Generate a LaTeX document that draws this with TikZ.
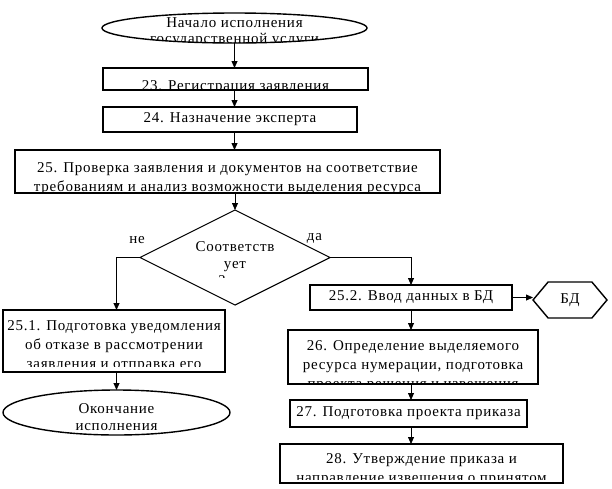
\documentclass[tikz,border=0pt]{standalone}
\usepackage{fontspec}
\setmainfont{Liberation Serif}[LetterSpace=5]
\usetikzlibrary{positioning, arrows.meta, shapes.geometric, shapes.symbols}

\begin{document}
\begin{tikzpicture}[
    x=1pt, y=1pt,
    every node/.style={font=\fontsize{15}{19}\selectfont, outer sep=0pt},
    txt/.style={shape=rectangle, draw=none, fill=none, minimum width=0pt, minimum height=0pt,
        align=center, inner sep=0pt, anchor=north, path picture={}},
    blok/.style={
        rectangle,
        draw,
        line width=1.6pt,
        align=center,
        inner sep=0pt,
    },
    term/.style={ellipse, draw, line width=1.4pt, inner sep=0pt}, % начало и конец
    % обрезанный текст: отступ сверху, поле снизу, текст
    cut/.style n args={3}{path picture={
        \clip (path picture bounding box.north west) rectangle ([yshift=#2]path picture bounding box.south east);
        \node[txt] at ([yshift=-#1]path picture bounding box.north) {\vphantom{\strut}#3};}},
    lbl/.style={inner sep=0pt},
    arr/.style={-{Triangle[width=6pt,length=7pt]}, line width=0.8pt}
]
\useasboundingbox (0,0) rectangle (612,-488);

% Узлы
\node[term, minimum width=265pt, minimum height=30pt, cut={0.7pt}{0pt}{Начало исполнения\\[-3pt]государственной услуги}] (start) at (234.5,-28) {};
\node[blok, below=25pt of start, xshift=1pt, minimum width=265pt, minimum height=22pt, cut={9.3pt}{1pt}{23. Регистрация заявления}] (reg) {};
\node[blok, below=17pt of reg, xshift=-5.5pt, minimum width=254pt, minimum height=25pt] (expert) {24. Назначение эксперта};
\node[blok, below=18pt of expert, xshift=-2.5pt, minimum width=425pt, minimum height=43pt, cut={8.7pt}{0pt}{25. Проверка заявления и документов на соответствие\\требованиям и анализ возможности выделения ресурса}] (check) {};
\node[diamond, draw, line width=1.1pt, inner sep=0pt, below=17pt of check, xshift=7.5pt, minimum width=190pt, minimum height=95pt,
    cut={27.7pt}{27.5pt}{Соответств\\[-2pt]ует\\[-2pt]\hspace*{-26pt}?}] (cond) {};
\node[lbl, above=14pt of cond.west, xshift=-3pt] (ne) {не};
\node[lbl, above=14.5pt of cond.east, xshift=-15.5pt] (da) {да};

\node[blok, below=52.5pt of cond.west, xshift=-26pt, minimum width=222pt, minimum height=62pt, cut={6.7pt}{6pt}{25.1. Подготовка уведомления\\об отказе в рассмотрении\\заявления и отправка его}] (refuse) {};
\node[term, below=18pt of refuse, xshift=2.5pt, minimum width=227pt, minimum height=45pt, cut={9.7pt}{5pt}{Окончание\\[-2pt]исполнения}] (finish) {};

\node[blok, below=27.5pt of cond.east, xshift=81pt, minimum width=202pt, minimum height=25pt] (input) {25.2. Ввод данных в БД};
\node[signal, signal to=west and east, signal pointer angle=100, draw, line width=1.4pt, inner sep=0pt, right=21pt of input, yshift=-2.5pt, minimum width=74pt, minimum height=36pt] (db) {БД};
\node[blok, below=20pt of input, xshift=2pt, minimum width=250pt, minimum height=54pt, cut={6.7pt}{0pt}{26. Определение выделяемого\\ресурса нумерации, подготовка\\проекта решения и извещения}] (define) {};
\node[blok, below=16pt of define, xshift=-4.5pt, minimum width=237pt, minimum height=27pt] (order) {27. Подготовка проекта приказа};
\node[blok, below=17pt of order, xshift=13pt, minimum width=283pt, minimum height=39pt, cut={5.7pt}{4pt}{28. Утверждение приказа и\\направление извещения о принятом}] (approve) {};

% Соединения
\draw[arr] (start.south) -- (start.south |- reg.north);
\draw[arr] (reg.south -| start) -- (expert.north -| start);
\draw[arr] (expert.south -| start) -- (check.north -| start);
\draw[arr] (check.south -| cond) -- (cond.north);

% Ветка "не"
\draw[arr] (cond.west) -| (finish.north |- refuse.north);
\draw[arr] (finish.north |- refuse.south) -- (finish.north);

% Ветка "да"
\draw[arr] (cond.east) -| (input.north);
\draw[arr] (input.east) -- (input.east -| db.west);
\draw[arr] (input.south) -- (input.south |- define.north);
\draw[arr] (input.south |- define.south) -- (input.south |- order.north);
\draw[arr] (input.south |- order.south) -- (input.south |- approve.north);

\end{tikzpicture}
\end{document}
